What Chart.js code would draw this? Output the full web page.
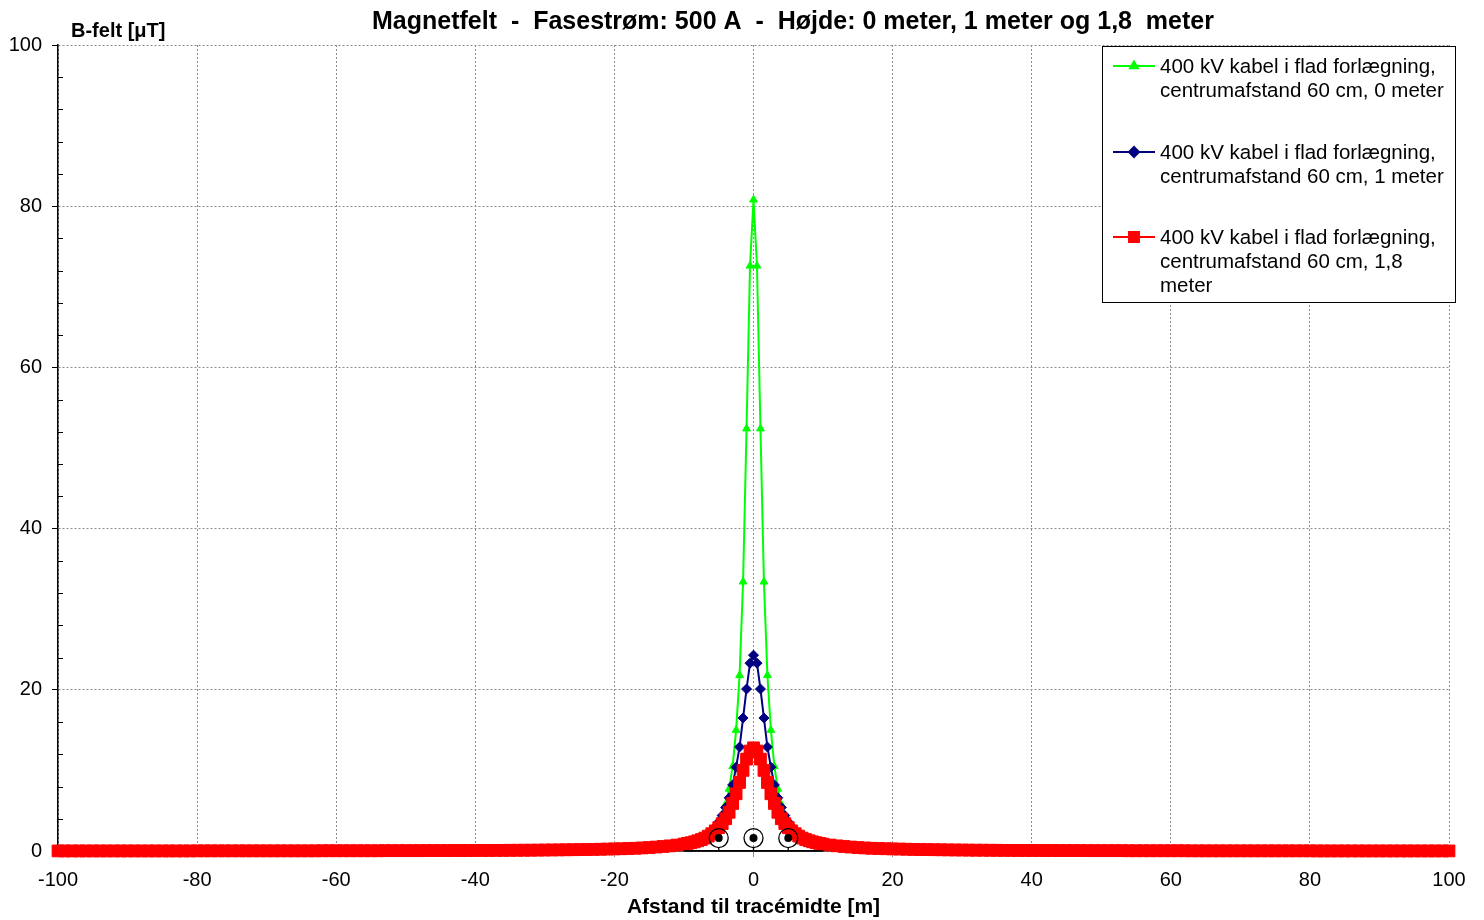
<!DOCTYPE html>
<html>
<head>
<meta charset="utf-8">
<script src="https://cdn.jsdelivr.net/npm/chart.js@4.4.1/dist/chart.umd.min.js"></script>
<style>
  body { margin: 0; background: #fff; }
  #wrap { width: 1484px; height: 920px; }
</style>
</head>
<body>
<div id="wrap"><canvas id="chart" width="1484" height="920"></canvas></div>
<script>
// distances (m) right of the centre line; the curves are mirrored to the left
const xNear = [0, 0.5, 1, 1.5, 2, 2.5, 3, 3.5, 4, 4.5, 5, 5.5, 6, 6.5, 7, 7.5, 8, 8.5, 9, 9.5, 10];
const xFar = [11, 12, 13, 14, 15, 16, 17, 18, 19, 20, 21, 22, 23, 24, 25, 26, 27, 28, 29, 30,
  31, 32, 33, 34, 35, 36, 37, 38, 39, 40, 41, 42, 43, 44, 45, 46, 47, 48, 49, 50,
  51, 52, 53, 54, 55, 56, 57, 58, 59, 60, 61, 62, 63, 64, 65, 66, 67, 68, 69, 70,
  71, 72, 73, 74, 75, 76, 77, 78, 79, 80, 81, 82, 83, 84, 85, 86, 87, 88, 89, 90,
  91, 92, 93, 94, 95, 96, 97, 98, 99, 100];

// B-field (uT) near the cables, at xNear
const field0m = [80.8, 72.6, 52.4, 33.4, 21.8, 15.0, 10.5, 7.7, 5.8, 4.5, 3.6, 2.95, 2.45, 2.1, 1.8, 1.55, 1.35, 1.2, 1.05, 0.95, 0.86];
const field1m = [24.3, 23.3, 20.1, 16.5, 12.9, 10.4, 8.2, 6.6, 5.4, 4.4, 3.6, 3.0, 2.5, 2.15, 1.85, 1.6, 1.4, 1.25, 1.1, 0.98, 0.88];
const field18m = [12.8, 12.4, 11.4, 10.0, 8.5, 7.1, 5.9, 4.8, 4.0, 3.4, 2.9, 2.5, 2.15, 1.85, 1.6, 1.42, 1.27, 1.14, 1.03, 0.94, 0.86];
// far away all three curves lie on top of each other (at xFar)
const farField = [0.74, 0.64, 0.56, 0.49, 0.43, 0.38, 0.34, 0.31, 0.28, 0.26, 0.24, 0.22, 0.2, 0.18, 0.17, 0.16, 0.15, 0.14, 0.13, 0.12,
  0.11, 0.1, 0.1, 0.09, 0.09, 0.08, 0.08, 0.07, 0.07, 0.07, 0.06, 0.06, 0.06, 0.05, 0.05, 0.05, 0.05, 0.04, 0.04, 0.04,
  0.04, 0.04, 0.04, 0.03, 0.03, 0.03, 0.03, 0.03, 0.03, 0.03, 0.03, 0.03, 0.02, 0.02, 0.02, 0.02, 0.02, 0.02, 0.02, 0.02,
  0.02, 0.02, 0.02, 0.02, 0.02, 0.02, 0.02, 0.02, 0.02, 0.02, 0.01, 0.01, 0.01, 0.01, 0.01, 0.01, 0.01, 0.01, 0.01, 0.01,
  0.01, 0.01, 0.01, 0.01, 0.01, 0.01, 0.01, 0.01, 0.01, 0.01];

const seriesLabels = [
  ["400 kV kabel i flad forlægning,", "centrumafstand 60 cm, 0 meter"],
  ["400 kV kabel i flad forlægning,", "centrumafstand 60 cm, 1 meter"],
  ["400 kV kabel i flad forlægning,", "centrumafstand 60 cm, 1,8", "meter"],
];
const xTicks = [-100, -80, -60, -40, -20, 0, 20, 40, 60, 80, 100];
const yTicks = [0, 20, 40, 60, 80, 100];

// cable symbols under the peak
const cableX = [-5, 0, 5];
const cableY = 1.6;
const cableLine = [-10, 10];

const FONT = "'Liberation Sans', Arial, sans-serif";

function series(near) {
  const right = xNear.map((x, i) => ({ x: x, y: near[i] }))
    .concat(xFar.map((x, i) => ({ x: x, y: farField[i] })));
  const left = right.slice(1).map((p) => ({ x: -p.x, y: p.y })).reverse();
  return left.concat(right);
}

const styles = [
  { color: "#00ff00", point: "triangle", radius: 4.5, order: 3 },
  { color: "#000080", point: "rectRot", radius: 5, order: 2 },
  { color: "#ff0000", point: "rect", radius: 8.3, order: 1 },
];
const values = [field0m, field1m, field18m];

const decorations = {
  id: "decorations",
  afterDatasetsDraw(chart) {
    const ctx = chart.ctx;
    const xs = chart.scales.x;
    const ys = chart.scales.y;
    const area = chart.chartArea;
    ctx.save();

    // minor ticks inside the y axis
    ctx.strokeStyle = "#000";
    ctx.lineWidth = 1;
    for (let v = 4; v < 100; v += 4) {
      if (v % 20 === 0) continue;
      const py = Math.round(ys.getPixelForValue(v)) + 0.5;
      ctx.beginPath();
      ctx.moveTo(area.left, py);
      ctx.lineTo(area.left + 5, py);
      ctx.stroke();
    }

    // cable sketch
    const y0 = ys.getPixelForValue(0);
    const yc = ys.getPixelForValue(cableY);
    ctx.lineWidth = 1.3;
    ctx.beginPath();
    ctx.moveTo(xs.getPixelForValue(cableLine[0]), y0);
    ctx.lineTo(xs.getPixelForValue(cableLine[1]), y0);
    ctx.stroke();
    cableX.forEach((cx) => {
      const px = xs.getPixelForValue(cx);
      ctx.beginPath();
      ctx.moveTo(px, y0);
      ctx.lineTo(px, yc + 9);
      ctx.stroke();
      ctx.beginPath();
      ctx.arc(px, yc, 9.5, 0, Math.PI * 2);
      ctx.stroke();
      ctx.beginPath();
      ctx.arc(px, yc, 4, 0, Math.PI * 2);
      ctx.fillStyle = "#000";
      ctx.fill();
    });

    // texts
    ctx.fillStyle = "#000";
    ctx.textBaseline = "middle";
    ctx.textAlign = "center";
    ctx.font = "bold 25px " + FONT;
    ctx.fillText("Magnetfelt  -  Fasestrøm: 500 A  -  Højde: 0 meter, 1 meter og 1,8  meter", 793, 22);
    ctx.font = "bold 21px " + FONT;
    ctx.fillText("Afstand til tracémidte [m]", (area.left + area.right) / 2, 907);
    ctx.textAlign = "left";
    ctx.font = "bold 20px " + FONT;
    ctx.fillText("B-felt [μT]", 71, 31);

    // legend box
    ctx.fillStyle = "#fff";
    ctx.fillRect(1102, 46, 353, 256);
    ctx.strokeStyle = "#000";
    ctx.lineWidth = 1;
    ctx.strokeRect(1102.5, 46.5, 353, 256);
    const rowY = [66, 152, 237];
    ctx.font = "20.5px " + FONT;
    seriesLabels.forEach((lines, i) => {
      const st = styles[i];
      const y = rowY[i];
      ctx.strokeStyle = st.color;
      ctx.lineWidth = 2;
      ctx.beginPath();
      ctx.moveTo(1113, y);
      ctx.lineTo(1155, y);
      ctx.stroke();
      Chart.helpers.drawPoint(ctx, {
        pointStyle: st.point,
        radius: st.point === "rect" ? 7 : st.radius,
        borderWidth: 1,
      }, 1134, y);
      ctx.fillStyle = st.color;
      ctx.fill();
      ctx.fillStyle = "#000";
      lines.forEach((t, k) => ctx.fillText(t, 1160, y + 1 + k * 24));
    });
    ctx.restore();
  },
};

new Chart(document.getElementById("chart").getContext("2d"), {
  type: "line",
  data: {
    datasets: values.map((v, i) => ({
      label: seriesLabels[i].join(" "),
      data: series(v),
      borderColor: styles[i].color,
      backgroundColor: styles[i].color,
      pointBackgroundColor: styles[i].color,
      pointBorderColor: styles[i].color,
      pointStyle: styles[i].point,
      pointRadius: styles[i].radius,
      pointBorderWidth: 1,
      borderWidth: 2,
      order: styles[i].order,
      tension: 0,
      fill: false,
      clip: false,
    })),
  },
  options: {
    responsive: false,
    animation: false,
    events: [],
    layout: { padding: { top: 45, right: 35, left: 0, bottom: 0 } },
    plugins: {
      legend: { display: false },
      title: { display: false },
      tooltip: { enabled: false },
    },
    scales: {
      x: {
        type: "linear",
        min: -100,
        max: 100,
        afterFit: (scale) => { scale.height = 69; },
        afterBuildTicks: (scale) => { scale.ticks = xTicks.map((v) => ({ value: v })); },
        ticks: {
          color: "#000",
          padding: 11,
          maxRotation: 0,
          font: { size: 20, family: FONT },
        },
        grid: {
          color: "#8c8c8c",
          lineWidth: 1,
          tickLength: 6,
          tickColor: "#8c8c8c",
        },
        border: { display: true, color: "#000", width: 1.5, dash: [2, 2] },
      },
      y: {
        min: 0,
        max: 100,
        afterFit: (scale) => { scale.width = 58; },
        afterBuildTicks: (scale) => { scale.ticks = yTicks.map((v) => ({ value: v })); },
        ticks: {
          color: "#000",
          padding: 10,
          font: { size: 20, family: FONT },
        },
        grid: {
          color: "#8c8c8c",
          lineWidth: 1,
          tickLength: 6,
          tickColor: "#000",
        },
        border: { display: true, color: "#000", width: 1.5, dash: [2, 2] },
      },
    },
  },
  plugins: [decorations],
});
</script>
</body>
</html>
